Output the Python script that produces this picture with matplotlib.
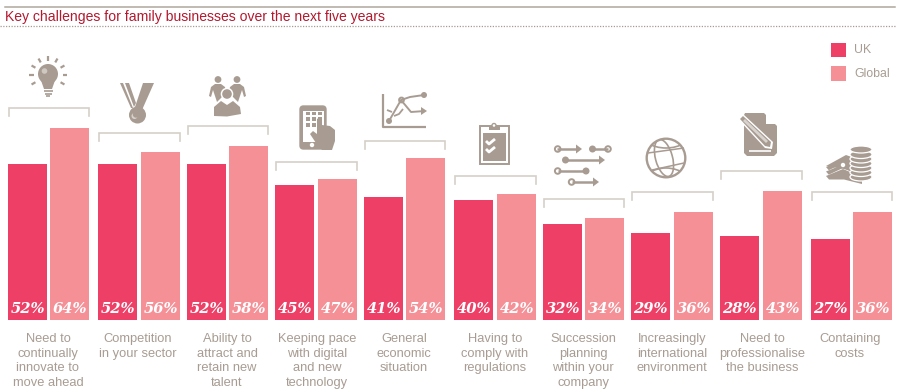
import numpy as np
import matplotlib
matplotlib.use('Agg')
import matplotlib.pyplot as plt
from matplotlib.patches import Circle, Ellipse, Polygon, Rectangle, FancyBboxPatch

categories = [
    'Need to\ncontinually\ninnovate to\nmove ahead',
    'Competition\nin your sector',
    'Ability to\nattract and\nretain new\ntalent',
    'Keeping pace\nwith digital\nand new\ntechnology',
    'General\neconomic\nsituation',
    'Having to\ncomply with\nregulations',
    'Succession\nplanning\nwithin your\ncompany',
    'Increasingly\ninternational\nenvironment',
    'Need to\nprofessionalise\nthe business',
    'Containing\ncosts',
]
uk = [52, 52, 52, 45, 41, 40, 32, 29, 28, 27]
global_ = [64, 56, 58, 47, 54, 42, 34, 36, 43, 36]

# layout, in reference pixels
uk_left = [8, 98, 187, 275, 364, 454, 543, 631, 720, 811]
gl_left = [50, 141, 229, 318, 406, 497, 585, 674, 763, 853]
bar_w = 38.5
bracket_y = [108, 133, 126, 162, 140.5, 176, 199, 192, 171, 192]
label_x = [48, 137.5, 227, 317, 404, 495, 583, 672, 762, 850]

RED = '#ee4066'
PINK = '#f59097'
GREY = '#a89c92'
BRACKET = '#d5cfc8'
TITLE = '#b3192f'
FONT = ['Liberation Sans', 'DejaVu Sans']

fig = plt.figure(figsize=(9, 3.92), dpi=100)

# bars: 3 px per percentage point, baseline at y=320 px
ax = fig.add_axes([0, 72 / 392, 1, 320 / 392])
ax.set_xlim(0, 900)
ax.set_ylim(0, 320 / 3)
ax.axis('off')
ax.bar(uk_left, uk, width=bar_w, align='edge', color=RED, linewidth=0)
ax.bar(gl_left, global_, width=bar_w, align='edge', color=PINK, linewidth=0)

for lefts, vals in ((uk_left, uk), (gl_left, global_)):
    for x, v in zip(lefts, vals):
        ax.text(x + bar_w / 2 + 0.5, 3.8, f'{v}%', color='white', ha='center', va='center',
                family='DejaVu Serif', weight='bold', style='italic', fontsize=10.6)

# everything else in pixel coordinates
px = fig.add_axes([0, 0, 1, 1], facecolor='none')
px.set_xlim(0, 900)
px.set_ylim(392, 0)
px.axis('off')

px.plot([5, 895], [6.5, 6.5], color='#b0a79c', lw=1.1)
px.plot([0, 895], [26, 26], color='#a89c92', lw=0.9, linestyle=(0, (1, 1.2)))
px.text(5, 17, 'Key challenges for family businesses over the next five years',
        color=TITLE, family=FONT, fontsize=10.05, va='center')

# legend
px.add_patch(Rectangle((831, 42.5), 15, 14.5, color=RED, lw=0))
px.add_patch(Rectangle((831, 66), 15, 14.5, color=PINK, lw=0))
px.text(854, 50, 'UK', color=GREY, family=FONT, fontsize=8.8, va='center')
px.text(854, 74, 'Global', color=GREY, family=FONT, fontsize=8.8, va='center')

# brackets over each group
for i, y in enumerate(bracket_y):
    x0 = uk_left[i]
    x1 = gl_left[i] + bar_w
    px.plot([x0 + 0.5, x0 + 0.5, x1, x1], [y + 8, y, y, y + 8], color=BRACKET, lw=1.2,
            solid_joinstyle='miter')

# category labels
for x, lab in zip(label_x, categories):
    px.text(x, 333, lab, color=GREY, family=FONT, fontsize=9.3, ha='center', va='top',
            linespacing=1.3)


def fill(points, color=GREY):
    px.add_patch(Polygon(points, closed=True, color=color, lw=0))


def disc(x, y, r, color=GREY):
    px.add_patch(Circle((x, y), r, color=color, lw=0))


def ring(x, y, r, lw=1.4):
    px.add_patch(Circle((x, y), r, fc='white', ec=GREY, lw=lw))


def line(xs, ys, lw=1.8, color=GREY):
    px.plot(xs, ys, color=color, lw=lw, solid_capstyle='butt')


def arrow(x0, x1, y):
    line([x0, x1 - 4], [y, y])
    fill([(x1 - 6, y - 4.5), (x1, y), (x1 - 6, y + 4.5)])


# bulb
disc(48, 74, 10)
fill([(40.5, 79), (55.5, 79), (52, 89), (44, 89)])
disc(44.5, 71, 2.8, '#cfc8c1')
line([43.5, 52.5], [91, 91], lw=1.2)
line([44.5, 51.5], [93.5, 93.5], lw=1.2)
line([46, 50], [96, 96], lw=1.2)
for deg in [-180, -150, -120, -90, -60, -30, 0, 30, 150]:
    a = np.radians(deg)
    line([48 + 14.5 * np.cos(a), 48 + 19 * np.cos(a)],
         [75 + 14.5 * np.sin(a), 75 + 19 * np.sin(a)], lw=1.6)

# medal
fill([(120, 83), (123, 83), (133, 108), (131, 108)])
fill([(125, 83), (129, 83), (136, 103), (134, 107)])
fill([(143, 83), (154, 83), (142, 110), (134, 110)])
disc(137.5, 115, 8.5)
disc(134.5, 116, 3, '#d8d2cc')
disc(136, 114.5, 3.2)

# people
for hx in (218, 237):
    disc(hx, 79.5, 3.4)
fill([(209, 96), (211, 87), (215, 84), (221, 84), (225, 87), (226, 92), (222, 97), (217, 102), (215, 96),
      (213, 90), (211, 97)])
fill([(246, 96), (244, 87), (240, 84), (234, 84), (230, 87), (229, 92), (233, 97), (238, 102), (240, 96),
      (242, 90), (244, 97)])
disc(227, 94, 6.3, 'white')
disc(227, 94, 4.8)
fill([(214, 116), (214, 107), (221, 101), (227, 105), (233, 101), (240, 107), (241, 114), (227, 116.5)])

# tablet
px.add_patch(FancyBboxPatch((300, 106), 26, 43, boxstyle='round,pad=0,rounding_size=3.5',
                            fc=GREY, ec=GREY, lw=1))
px.add_patch(Rectangle((303, 110.5), 21, 31, color='white', lw=0))
disc(312, 145, 2.2, 'white')
for dx in (308, 314, 320):
    for dy in (113.5, 119, 125):
        px.add_patch(Rectangle((dx - 1.6, dy - 1.6), 3.4, 3.4, color=GREY, lw=0))
fill([(310, 134), (313, 131), (317, 134), (317, 119), (320, 117), (322, 120), (322, 125),
      (330, 126), (335, 130), (335, 141), (332, 150), (322, 150), (316, 143)])

# chart
line([383, 383, 426], [94, 127, 127], lw=1.6)
line([389, 401, 411, 425], [121, 100, 112, 111], lw=1.4)
line([401, 410, 424], [100, 97, 95], lw=1.4)
fill([(421, 107), (427, 111), (421, 115)])
ring(401.5, 100, 2.4)
disc(389, 121, 3)
disc(424, 95, 3)
line([387, 392], [110, 112], lw=1.3)
line([394, 399, 403], [116, 114, 109], lw=1.3)

# clipboard
px.add_patch(Rectangle((480, 126), 28.5, 38, fc='white', ec=GREY, lw=1.4))
px.add_patch(Rectangle((483, 133), 23, 28, color=GREY, lw=0))
px.add_patch(Rectangle((489, 126), 11, 3.5, color=GREY, lw=0))
ring(494, 125.5, 2, lw=1)
line([486, 489, 495], [141, 144, 139], lw=2, color='white')
line([486, 489, 495], [149, 152, 147], lw=2, color='white')

# arrows
arrow(557, 582, 149)
line([593, 608], [149, 149])
disc(592.5, 149, 3.5)
ring(608, 149, 2.8)
ring(557.7, 149, 2.8)
arrow(565, 605, 160)
disc(565.5, 160, 3.5)
line([558, 586], [171, 171])
ring(557.7, 171, 2.8)
disc(586, 171, 3.5)
arrow(572, 599, 182)
ring(571.6, 182, 2.8)

# globe
outline = Circle((666, 158), 19.3, fc='white', ec=GREY, lw=1.7)
px.add_patch(outline)
for e in (Ellipse((664, 158), 17, 38, angle=-15, fc='none', ec=GREY, lw=1.2),
          Ellipse((666, 131), 52, 34, fc='none', ec=GREY, lw=1.2),
          Ellipse((666, 188), 52, 40, fc='none', ec=GREY, lw=1.2)):
    px.add_patch(e)
    e.set_clip_path(outline)
line([648, 684], [153, 148], lw=1.1)
line([652, 684], [170, 163], lw=1.1)

# document and pen
fill([(745, 113), (764, 113), (777, 126), (777, 153), (774, 156), (747, 156), (744, 153), (744, 115)])
fill([(766, 114), (776, 124), (766, 124)], 'white')
line([749, 771], [150.5, 150.5], lw=1.2, color='white')
fill([(738, 119), (743, 114), (773, 142), (772, 149), (765, 148)], 'white')
fill([(740, 119), (743, 116), (771, 142), (770, 147), (765, 146)])
fill([(743, 121), (745, 119), (768, 141), (766, 143)], '#d8d2cc')

# coins and cash
for i in range(3):
    y = 167 + i * 4.5
    fill([(826, y), (843, y - 8), (862, y), (875, y + 1), (862, y + 10), (844, y + 5)], 'white')
    fill([(826, y), (843, y - 7), (862, y + 1), (862, y + 8), (844, y + 3.5), (829, y + 3.5)])
fill([(826, 166), (846, 155), (860, 160), (860, 174), (844, 169)])
disc(843, 165, 2.2, 'white')
for y in (177, 172.5, 168, 163.5, 159, 154.5):
    px.add_patch(Ellipse((861, y), 22, 8, fc=GREY, ec='white', lw=0.9))
px.add_patch(Ellipse((861, 149.5), 22, 7, fc=GREY, ec='white', lw=0.9))

fig.savefig('out.png', dpi=100)
